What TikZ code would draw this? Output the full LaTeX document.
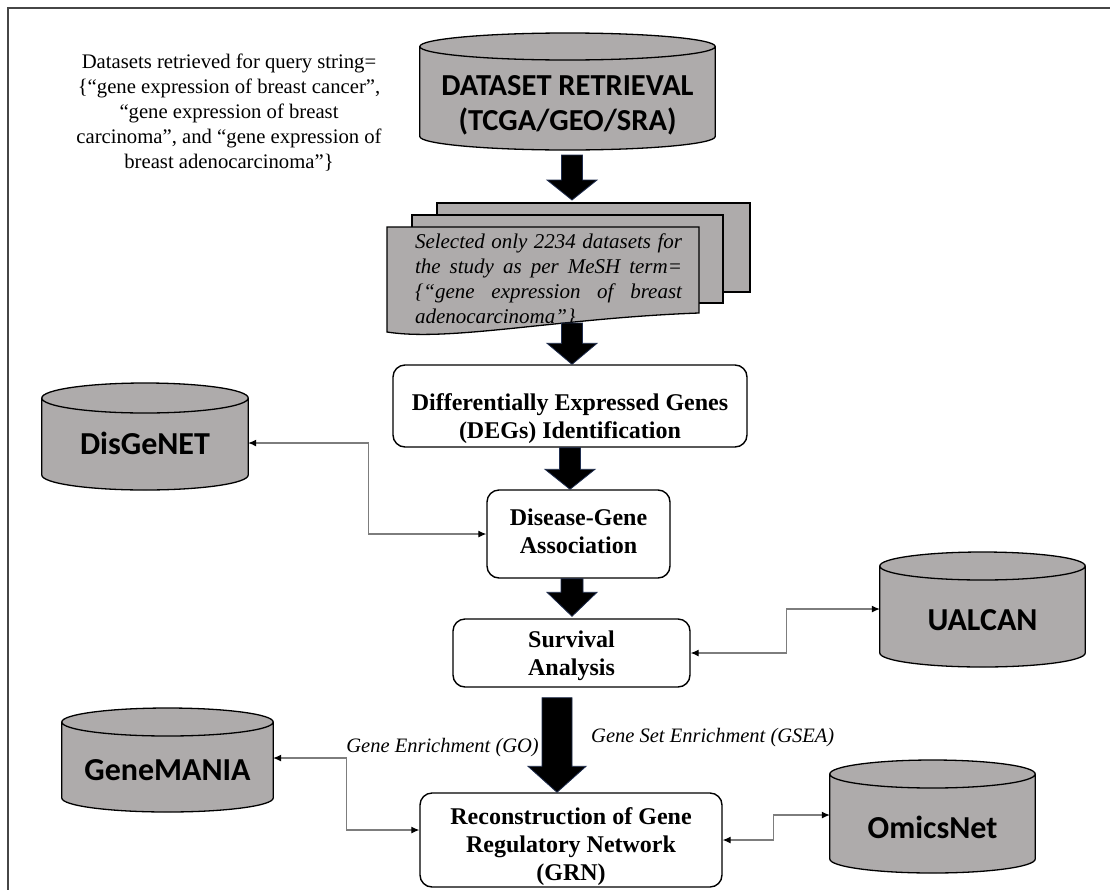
\documentclass[tikz,border=0pt]{standalone}
\usepackage{fontspec}
\setmainfont{Liberation Serif}
\newfontfamily\dbfont{Carlito}
\usetikzlibrary{calc,arrows.meta,backgrounds}
\definecolor{dbgray}{RGB}{174,171,171}
\definecolor{framegray}{RGB}{70,70,70}
\definecolor{conngray}{RGB}{125,125,125}
\definecolor{navy}{RGB}{31,45,78}
\newcommand\dbshape[4][14]{%
  \begin{pgfonlayer}{background}
  \path[dbline] let \p1=(#2.west), \p2=(#2.east), \n1={0.5*(\x2-\x1)} in
    (\x1,\y1+#3pt-#1pt) -- (\x1,\y1-#4pt+#1pt)
    arc[start angle=180,end angle=360,x radius=\n1,y radius=#1pt]
    -- (\x2,\y1+#3pt-#1pt)
    arc[start angle=0,end angle=180,x radius=\n1,y radius=#1pt] -- cycle
    (\x1,\y1+#3pt-#1pt) arc[start angle=180,end angle=360,x radius=\n1,y radius=#1pt];
  \end{pgfonlayer}}
\newcommand\fatarrow[6]{%
  \filldraw[fat] let \p1=(#1), \p2=(#2) in
    (\x1-#5pt,\y1-#3pt) -- (\x1+#5pt,\y1-#3pt) -- (\x1+#5pt,\y2+#4pt) -- (\x1+#6pt,\y2+#4pt)
    -- (\x1,\y2) -- (\x1-#6pt,\y2+#4pt) -- (\x1-#5pt,\y2+#4pt) -- cycle;}
\newcommand\lowered[3][1]{\raisebox{-#2pt}[\height][\depth]{\def\arraystretch{#1}\begin{tabular}{@{}c@{}}#3\end{tabular}}}
\begin{document}
\begin{tikzpicture}[x=1pt,y=1pt,
  box/.style={draw=black,line width=1.4pt,rounded corners=12pt,fill=white,inner sep=0pt,font=\bfseries\fontsize{24}{28}\selectfont},
  db/.style={inner sep=0pt,align=center,font=\dbfont\bfseries\fontsize{32}{38}\selectfont},
  dbline/.style={draw=black,line width=1.3pt,fill=dbgray},
  page/.style={draw=black,line width=1.3pt,fill=dbgray},
  fat/.style={fill=black,draw=navy,line width=0.8pt},
  conn/.style={draw=conngray,line width=1.1pt,arrows={Latex[length=8pt,width=7pt,color=black]-Latex[length=8pt,width=7pt,color=black]}},
  lbl/.style={inner sep=0pt,font=\itshape\fontsize{20.5}{24}\selectfont}]

\useasboundingbox (0,0) rectangle (1110,-889);
\begin{scope}
  \clip (0,0) rectangle (1110,-889);
  \draw[framegray,line width=2.2pt] (8,-8) rectangle (1140,-920);
\end{scope}

% query text
\node[inner sep=0pt,align=center,font=\fontsize{20.7}{24.8}\selectfont] (query) at (229,-112.5)
  {Datasets retrieved for query string=\\\{“gene expression of breast cancer”,\\“gene expression of breast\\carcinoma”, and “gene expression of\\breast adenocarcinoma”\}};

% dataset retrieval
\node[db,minimum width=295pt,font=\dbfont\bfseries\fontsize{30.5}{35}\selectfont] (ds) at (567.5,-105.5)
  {DATASET RETRIEVAL\\(TCGA/GEO/SRA)};
\dbshape[13.5]{ds}{72.5}{44.5}

% multi-document
\draw[page] (437,-203) rectangle (750,-292);
\draw[page] (412,-215) rectangle (723,-303);
\draw[page] (387,-227) -- (699,-227) -- (699,-313) .. controls (560,-318) and (450,-342) .. (387,-332) -- cycle;
\coordinate (stacktop) at (572,-203);
\coordinate (stackbot) at (572,-323);
\node[inner sep=0pt,align=left,font=\itshape\fontsize{21}{24.7}\selectfont] (sel) at (548.5,-280)
  {\makebox[267pt][s]{Selected only 2234 datasets for}\\\makebox[267pt][s]{the study as per MeSH term=}\\\makebox[267pt][s]{\{“gene expression of breast}\\adenocarcinoma”\}};

% process boxes
\node[box,minimum width=354pt,minimum height=82pt] (deg) at (570,-406)
  {\lowered{13}{Differentially Expressed Genes\\(DEGs) Identification}};
\node[box,minimum width=183pt,minimum height=88pt] (dga) at (578.5,-534)
  {\lowered{0}{Disease-Gene\\Association}};
\node[box,minimum width=237pt,minimum height=68pt] (surv) at (571.5,-653)
  {\lowered{3}{Survival\\Analysis}};
\node[box,minimum width=302pt,minimum height=94pt] (grn) at (571,-840)
  {\lowered{6.5}{Reconstruction of Gene\\Regulatory Network\\(GRN)}};

% databases
\node[db,minimum width=206pt] (disg) at (145,-443) {DisGeNET};
\dbshape[15]{disg}{60}{47}
\node[db,minimum width=205pt] (ual) at (982.5,-620) {UALCAN};
\dbshape{ual}{68}{47}
\node[db,minimum width=211pt] (gm) at (167.5,-770) {GeneMANIA};
\dbshape{gm}{62}{42}
\node[db,minimum width=205pt] (om) at (932.5,-827) {OmicsNet};
\dbshape{om}{67}{46}

% connectors
\draw[conn] (disg.east) -- ++(120,0) |- (dga.west);
\draw[conn] (surv.east) -- ++(96,0) |- ([yshift=11pt]ual.west);
\draw[conn] ([yshift=12pt]gm.east) -- ++(73,0) |- ([yshift=10pt]grn.west);
\draw[conn] (grn.east) -- ++(51,0) |- ([yshift=12pt]om.west);

% fat arrows
\fatarrow{[xshift=4.5pt]ds.center}{[yshift=3pt]stacktop}{49.5}{20}{10.5}{25}
\fatarrow{stackbot}{deg.north}{0}{21}{10.5}{25}
\fatarrow{deg.south}{dga.north}{0}{20}{10.5}{25}
\fatarrow{[xshift=-6.5pt]dga.south}{[yshift=2pt]surv.north}{0}{24}{11}{25}
\fatarrow{[xshift=-14.5pt]surv.south}{grn.north}{10}{26}{15}{29}

% labels
\node[lbl,anchor=east] (go) at (539,-748) {Gene Enrichment (GO)};
\node[lbl,anchor=west] (gsea) at (591,-738) {Gene Set Enrichment (GSEA)};
\end{tikzpicture}
\end{document}
